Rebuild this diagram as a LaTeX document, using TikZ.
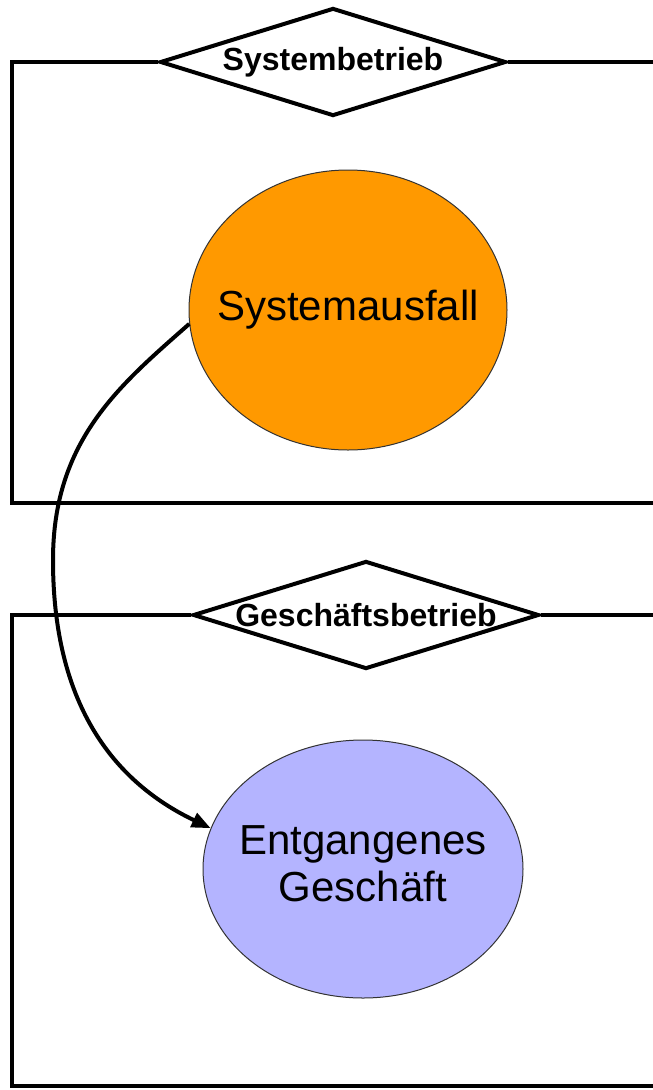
\documentclass[tikz,border=0pt]{standalone}
\usepackage{fontspec}
\setmainfont{Liberation Sans}
\usetikzlibrary{shapes.geometric,arrows.meta}
\definecolor{failorange}{RGB}{255,153,0}
\definecolor{lossblue}{RGB}{180,180,255}
\begin{document}
\begin{tikzpicture}[x=1pt,y=-1pt,
  frame/.style={line width=4pt, line join=miter},
  gate/.style={shape=diamond, draw, line width=4pt, fill=white, inner sep=0pt,
    minimum width=346pt, minimum height=108pt, font=\bfseries\fontsize{32}{36}\selectfont},
  event/.style={shape=ellipse, draw=black!80, line width=1pt, inner sep=0pt,
    font=\fontsize{42}{47}\selectfont},
  link/.style={line width=4pt, -{Triangle[length=19pt,width=15pt]}}]
\useasboundingbox (0,0) rectangle (653,1090);
\fill[white] (0,0) rectangle (653,1090);

% system operation swimlane
\node[gate] (g1) at (333,62) {\makebox[0pt]{Systembetrieb}};
\draw[frame] (653,62) -- (g1.east);
\draw[frame] (g1.west) -- (12,62) -- (12,503) -- (653,503);
\node[event, fill=failorange, minimum width=318pt, minimum height=280pt] (e1) at (348,310)
  {\makebox[0pt]{Systemausfall}};

% business operation swimlane
\node[gate] (g2) at (366,615) {\makebox[0pt]{Geschäftsbetrieb}};
\draw[frame] (653,615) -- (g2.east);
\draw[frame] (g2.west) -- (12,615) -- (12,1086) -- (653,1086);
\node[event, fill=lossblue, minimum width=320pt, minimum height=258pt] (e2) at (363,869)
  {\makebox[0pt]{\begin{tabular}{@{}c@{}}Entgangenes\\Geschäft\end{tabular}}};

% causal link
\draw[link] (e1.185) .. controls (120,385) and (53,440) .. (53,560)
  .. controls (53,700) and (110,780) .. (e2.165);
\end{tikzpicture}
\end{document}
